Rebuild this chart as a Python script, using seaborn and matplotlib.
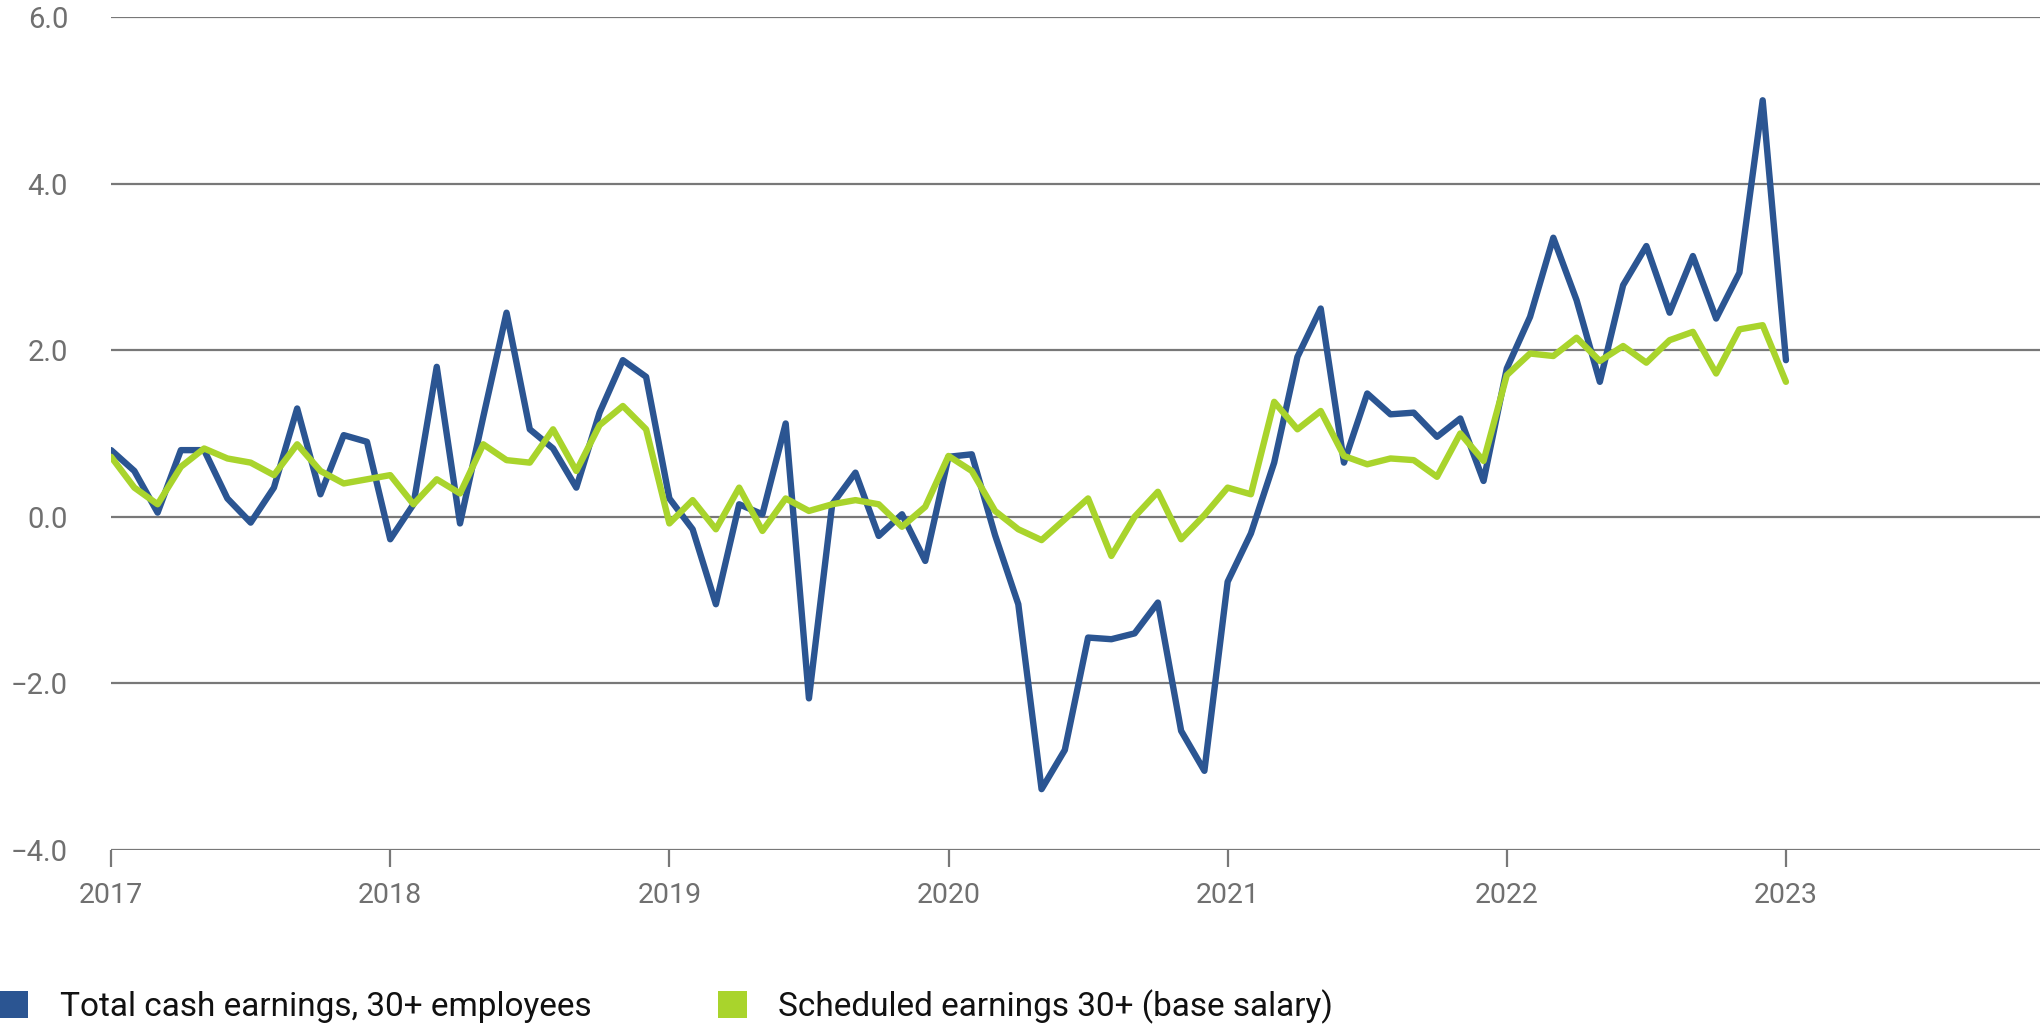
import numpy as np
import pandas as pd
import seaborn as sns
import matplotlib.pyplot as plt
from matplotlib.patches import Patch

# monthly values, Jan 2017 .. Jan 2023 (% y/y)
total_cash = [
    0.80, 0.55, 0.05, 0.80, 0.80, 0.22, -0.07, 0.35, 1.30, 0.27, 0.98, 0.90,
    -0.27, 0.15, 1.80, -0.08, 1.20, 2.45, 1.05, 0.82, 0.35, 1.25, 1.88, 1.68,
    0.22, -0.15, -1.05, 0.15, 0.03, 1.12, -2.18, 0.15, 0.53, -0.23, 0.03, -0.53,
    0.72, 0.75, -0.22, -1.05, -3.27, -2.80, -1.45, -1.47, -1.40, -1.03, -2.57, -3.05,
    -0.78, -0.20, 0.65, 1.92, 2.50, 0.65, 1.48, 1.23, 1.25, 0.96, 1.18, 0.43,
    1.78, 2.40, 3.35, 2.60, 1.62, 2.78, 3.25, 2.45, 3.13, 2.38, 2.93, 5.00,
    1.88,
]
scheduled = [
    0.72, 0.35, 0.15, 0.60, 0.82, 0.70, 0.65, 0.50, 0.87, 0.55, 0.40, 0.45,
    0.50, 0.15, 0.45, 0.28, 0.87, 0.68, 0.65, 1.05, 0.55, 1.10, 1.33, 1.05,
    -0.08, 0.20, -0.15, 0.35, -0.17, 0.22, 0.07, 0.15, 0.20, 0.15, -0.12, 0.12,
    0.73, 0.55, 0.07, -0.15, -0.28, -0.03, 0.22, -0.47, 0.00, 0.30, -0.27, 0.02,
    0.35, 0.27, 1.38, 1.05, 1.27, 0.73, 0.63, 0.70, 0.68, 0.48, 1.00, 0.67,
    1.70, 1.96, 1.93, 2.15, 1.87, 2.05, 1.85, 2.12, 2.22, 1.72, 2.25, 2.30,
    1.62,
]
series_names = ['Total cash earnings, 30+ employees', 'Scheduled earnings 30+ (base salary)']
colors = ['#2b5592', '#a9d42c']
year_ticks = [2017, 2018, 2019, 2020, 2021, 2022, 2023]
y_ticks = [-4, -2, 0, 2, 4, 6]

dates = pd.date_range('2017-01-01', periods=len(total_cash), freq='MS')
t = dates.year + (dates.month - 1) / 12

df = pd.concat([
    pd.DataFrame({'t': t, 'value': total_cash, 'series': series_names[0]}),
    pd.DataFrame({'t': t, 'value': scheduled, 'series': series_names[1]}),
])

sns.set_theme(style='white')
plt.rcParams['font.family'] = ['Roboto', 'DejaVu Sans']

fig = plt.figure(figsize=(20.42, 10.30), dpi=100)
ax = fig.add_axes([0.0544, 0.1748, 0.9446, 0.8087])

sns.lineplot(data=df, x='t', y='value', hue='series', palette=colors,
             linewidth=4.6, ax=ax, legend=False, zorder=3)

ax.set_xlim(2017, 2023.91)
ax.set_ylim(-4, 6)
ax.set_yticks(y_ticks)
ax.set_yticklabels([f'{v:.1f}'.replace('-', '\u2212') for v in y_ticks])
ax.set_xticks(year_ticks)
ax.set_xticklabels([str(y) for y in year_ticks])
ax.grid(axis='y', color='#787878', linewidth=1.6)
ax.grid(axis='x', visible=False)
for s in ax.spines.values():
    s.set_visible(False)

ax.tick_params(axis='y', length=0, pad=31, labelsize=21, labelcolor='#707070')
ax.tick_params(axis='x', bottom=True, length=12, width=1.6, color='#787878',
               pad=11, labelsize=20.5, labelcolor='#707070')
ax.set_xlabel('')
ax.set_ylabel('')

# legend along the bottom edge
handles = [Patch(facecolor=c, edgecolor='none') for c in colors]
fig.legend(handles, series_names, loc='lower left', bbox_to_anchor=(0.0, 0.006),
           ncol=2, frameon=False, fontsize=24, handlelength=0.85, handleheight=0.85,
           handletextpad=0.95, columnspacing=3.8, borderpad=0, borderaxespad=0,
           labelcolor='#111111')

fig.savefig('out.png', dpi=100)
